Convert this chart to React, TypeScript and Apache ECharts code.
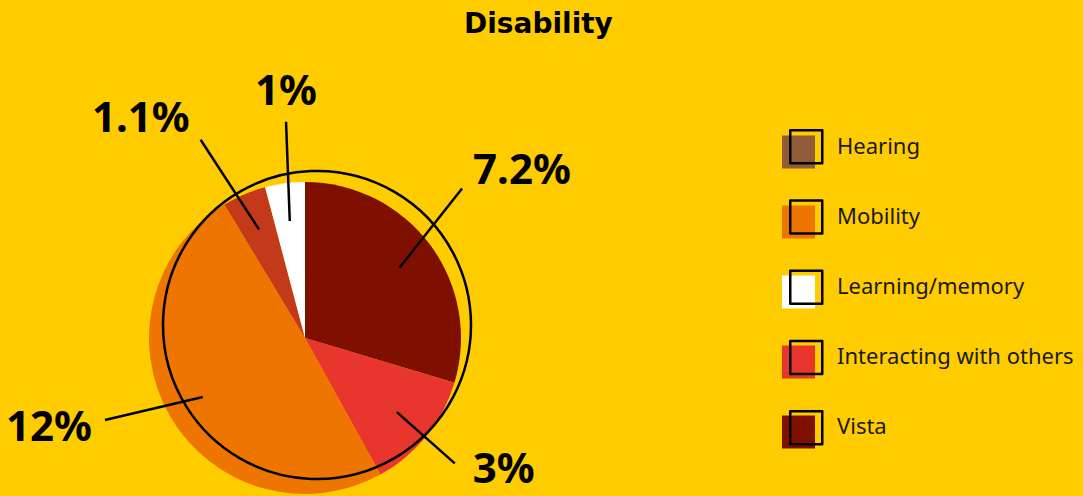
import React, { useEffect, useRef } from "react";
import * as echarts from "echarts";

const categories = ["Vista", "Interacting with others", "Mobility", "Hearing", "Learning/memory"];
const values = [7.2, 3, 12, 1.1, 1];
const sliceColors = ["#7F1000", "#E8352E", "#EE7600", "#C4391A", "#FFFFFF"];
const legendOrder = ["Hearing", "Mobility", "Learning/memory", "Interacting with others", "Vista"];
const legendColors: Record<string, string> = { Hearing: "#8F5B38" };

// layout of leader lines / labels (per slice, same order as categories)
const lineLengths = [99, 77, 98, 106, 99];
const labelShift = [
  { dx: -6, dy: -41, align: "left", ex: -11, ey: 21 },
  { dx: 16, dy: 6, align: "left", ex: -18, ey: -3 },
  { dx: -26, dy: -22, align: "right", ex: 13, ey: -4 },
  { dx: -28, dy: -16, align: "right", ex: 11, ey: 24 },
  { dx: 9, dy: -34, align: "center", ex: 0, ey: 33 },
];

export default function App() {
  const ref = useRef<HTMLDivElement>(null);
  useEffect(() => {
    document.body.style.margin = "0";
    const chart = echarts.init(ref.current!, null, { renderer: "svg" });
    const center = [305, 338];
    chart.setOption({
      animation: false,
      backgroundColor: "#FFCC00",
      title: {
        text: "Disability",
        left: 464,
        top: 9,
        padding: 0,
        textStyle: { fontFamily: "DejaVu Sans", fontWeight: "bold", fontSize: 28, color: "#000" },
      },
      legend: [
        {
          orient: "vertical",
          left: 782,
          top: 134,
          padding: 0,
          itemWidth: 33,
          itemHeight: 33,
          itemGap: 34,
          icon: "rect",
          selectedMode: false,
          data: legendOrder.map((n) =>
            legendColors[n] ? { name: n, itemStyle: { color: legendColors[n] } } : { name: n }
          ),
          formatter: (n: string) => `{g| }{t|${n}}`,
          textStyle: {
            fontFamily: "Noto Sans",
            fontSize: 22,
            color: "#1a1a1a",
            rich: {
              g: { width: 17 },
              t: {
                fontFamily: "Noto Sans",
                fontSize: 22,
                lineHeight: 16,
                color: "#1a1a1a",
                padding: [0, 0, 14, 0],
              },
            },
          },
        },
        {
          orient: "vertical",
          left: 789,
          top: 129,
          padding: 0,
          z: 6,
          itemWidth: 32,
          itemHeight: 33,
          itemGap: 34.75,
          icon: "rect",
          selectedMode: false,
          data: legendOrder.map((n) => ({ name: n })),
          formatter: () => "",
          itemStyle: { color: "rgba(0,0,0,0)", borderColor: "#000", borderWidth: 2.5 },
        },
      ],
      series: [
        {
          type: "pie",
          center,
          radius: [0, 156],
          startAngle: 90,
          clockwise: true,
          silent: true,
          label: { show: false },
          labelLine: { show: false },
          emphasis: { disabled: true },
          data: categories.map((c, i) => ({ name: c, value: values[i], itemStyle: { color: sliceColors[i] } })),
        },
        {
          type: "pie",
          center,
          radius: [0, 118],
          startAngle: 90,
          clockwise: true,
          silent: true,
          z: 5,
          avoidLabelOverlap: false,
          itemStyle: { color: "rgba(0,0,0,0)" },
          emphasis: { disabled: true },
          label: {
            show: true,
            position: "outside",
            formatter: "{c}%",
            fontFamily: "Noto Sans",
            fontWeight: "bold",
            fontSize: 42,
            color: "#000",
            distanceToLabelLine: 0,
          },
          labelLine: { show: true, length2: 0, lineStyle: { color: "#000", width: 2.5 } },
          labelLayout: (p: any) => {
            const pts = p.labelLinePoints;
            const s = labelShift[p.dataIndex];
            if (!pts) return {};
            const e = pts[1];
            const x = e[0] + s.dx;
            const y = e[1] + s.dy;
            return {
              x,
              y,
              align: s.align,
              verticalAlign: "middle",
              labelLinePoints: [pts[0], [x + s.ex, y + s.ey]],
            };
          },
          data: categories.map((c, i) => ({
            name: c,
            value: values[i],
            labelLine: { length: lineLengths[i], length2: 0 },
          })),
        },
      ],
      graphic: [
        {
          type: "circle",
          z: 100,
          shape: { cx: 317, cy: 325, r: 154 },
          style: { fill: "none", stroke: "#000", lineWidth: 2.5 },
          silent: true,
        },
      ],
    });
    return () => chart.dispose();
  }, []);
  return <div ref={ref} style={{ width: 1083, height: 496 }} />;
}
